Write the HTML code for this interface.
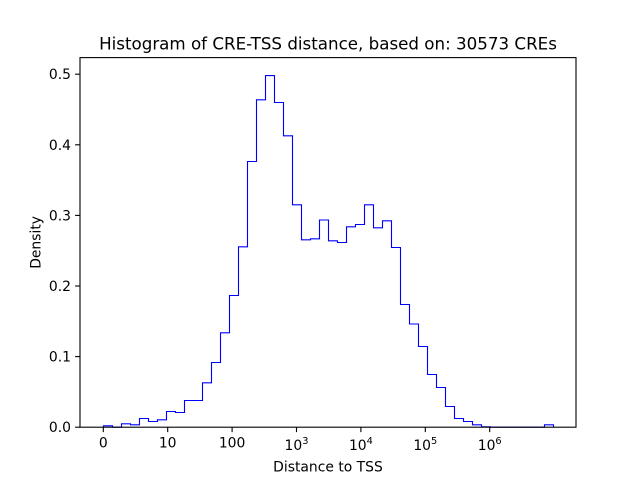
<!DOCTYPE html>
<html><head><meta charset="utf-8"><style>
html,body{margin:0;padding:0;background:#fff;}
svg{display:block;}
text{font-family:"DejaVu Sans","Liberation Sans",sans-serif;fill:#000;}
</style></head><body>
<svg width="640" height="480" viewBox="0 0 640 480" xmlns="http://www.w3.org/2000/svg">
<rect width="640" height="480" fill="#fff"/>
<path fill="none" stroke="#0000ff" stroke-width="1.1" stroke-linejoin="miter" d="M103.5,427.2 V425.8 H112.5 V427.2 H121.5 V423.8 H130.5 V424.8 H139.5 V418.5 H148.5 V421.5 H157.5 V419.8 H166.5 V411.5 H175.5 V412.5 H184.5 V400.5 H193.5 V400.5 H202.5 V382.8 H211.5 V362.5 H220.5 V332.8 H229.5 V295.5 H238.5 V246.8 H247.5 V161.5 H256.5 V99.8 H265.5 V75.6 H274.5 V102.5 H283.5 V135.8 H292.5 V204.8 H301.5 V239.8 H310.5 V238.8 H319.5 V220 H328.5 V240.8 H337.5 V242.5 H346.5 V226.8 H355.5 V224.5 H364.5 V204.8 H373.5 V227.8 H382.5 V220.8 H391.5 V247.5 H400.5 V304.5 H409.5 V324 H418.5 V346.5 H427.5 V374.5 H436.5 V387.5 H445.5 V406.5 H454.5 V418.5 H463.5 V421.5 H472.5 V424.8 H481.5 V426.8 H490.5 V427.2 H544.5 V424.8 H553.5 V427.2"/>
<rect x="80" y="57.6" width="496" height="369.6" fill="none" stroke="#000" stroke-width="1.1"/>
<g stroke="#000" stroke-width="1.1">
<line x1="103.3" y1="427.2" x2="103.3" y2="432.1"/>
<line x1="167.7" y1="427.2" x2="167.7" y2="432.1"/>
<line x1="232.1" y1="427.2" x2="232.1" y2="432.1"/>
<line x1="296.5" y1="427.2" x2="296.5" y2="432.1"/>
<line x1="360.9" y1="427.2" x2="360.9" y2="432.1"/>
<line x1="425.3" y1="427.2" x2="425.3" y2="432.1"/>
<line x1="489.7" y1="427.2" x2="489.7" y2="432.1"/>
<line x1="75.1" y1="427.2" x2="80" y2="427.2"/>
<line x1="75.1" y1="356.6" x2="80" y2="356.6"/>
<line x1="75.1" y1="286" x2="80" y2="286"/>
<line x1="75.1" y1="215.4" x2="80" y2="215.4"/>
<line x1="75.1" y1="144.8" x2="80" y2="144.8"/>
<line x1="75.1" y1="74.2" x2="80" y2="74.2"/>
</g>
<g font-size="13.9" text-anchor="end">
<text x="71" y="432.2">0.0</text>
<text x="71" y="361.6">0.1</text>
<text x="71" y="291">0.2</text>
<text x="71" y="220.4">0.3</text>
<text x="71" y="149.8">0.4</text>
<text x="71" y="79.2">0.5</text>
</g>
<g font-size="13.9" text-anchor="middle">
<text x="103.3" y="447.5">0</text>
<text x="167.7" y="447.5">10</text>
<text x="232.1" y="447.5">100</text>
<text x="296.5" y="450">10<tspan font-size="9.8" dy="-6">3</tspan></text>
<text x="360.9" y="450">10<tspan font-size="9.8" dy="-6">4</tspan></text>
<text x="425.3" y="450">10<tspan font-size="9.8" dy="-6">5</tspan></text>
<text x="489.7" y="450">10<tspan font-size="9.8" dy="-6">6</tspan></text>
<text x="328" y="471.5">Distance to TSS</text>
</g>
<text font-size="13.9" text-anchor="middle" transform="translate(40.5,242.4) rotate(-90)">Density</text>
<text font-size="16.7" text-anchor="middle" x="328" y="49.5">Histogram of CRE-TSS distance, based on: 30573 CREs</text>
</svg>
</body></html>
